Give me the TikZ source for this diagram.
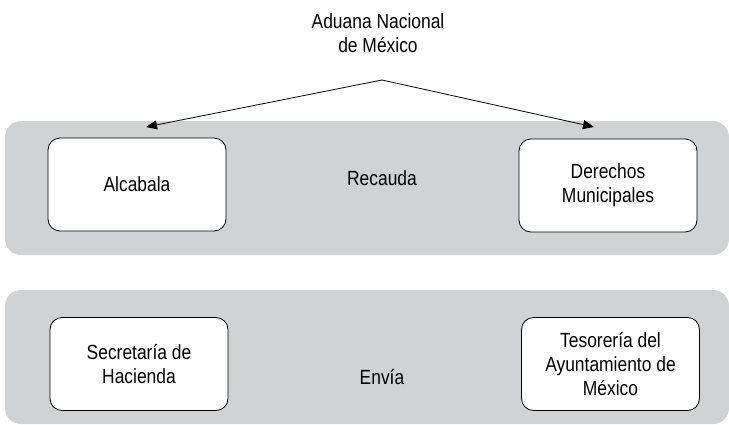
\documentclass[tikz,border=0pt]{standalone}
\usepackage{fontspec}
\setmainfont[FakeStretch=0.85]{Liberation Sans}
\usetikzlibrary{arrows.meta}
\definecolor{bandgray}{HTML}{D1D2D4}
\begin{document}
\begin{tikzpicture}[x=1pt,y=-1pt,font=\fontsize{20.5}{24}\selectfont,
  band/.style={fill=bandgray, rounded corners=16pt, inner sep=0pt},
  box/.style={draw, fill=white, rounded corners=12pt, line width=0.8pt, align=center,
    minimum width=178pt, minimum height=93pt, inner sep=0pt},
  lbl/.style={align=center, inner sep=0pt},
  arr/.style={line width=0.8pt, -{Triangle[length=11pt,width=9pt]}}]
\useasboundingbox (0,0) rectangle (729,424);
\node[band, minimum width=724pt, minimum height=134pt] (band1) at (367,188) {};
\node[band, minimum width=724pt, minimum height=134pt] (band2) at (367,357) {};
\node[box] (alc) at (137,184.5) {Alcabala};
\node[box] (der) at (608,185.5) {Derechos\\Municipales};
\node[box] (sec) at (139,364) {Secretaría de\\Hacienda};
\node[box] (tes) at (610.5,364) {Tesorería del\\Ayuntamiento de\\México};
\node[lbl] (rec) at (382,178) {Recauda};
\node[lbl] (env) at (382,377) {Envía};
\node[lbl, anchor=base] (title) at (378,52) {Aduana Nacional\\de México};
\coordinate (apex) at (382,80);
\coordinate (lt) at (146,127);
\coordinate (rt) at (594,127);
\draw[arr] (apex) -- (lt);
\draw[arr] (apex) -- (rt);
\end{tikzpicture}
\end{document}
